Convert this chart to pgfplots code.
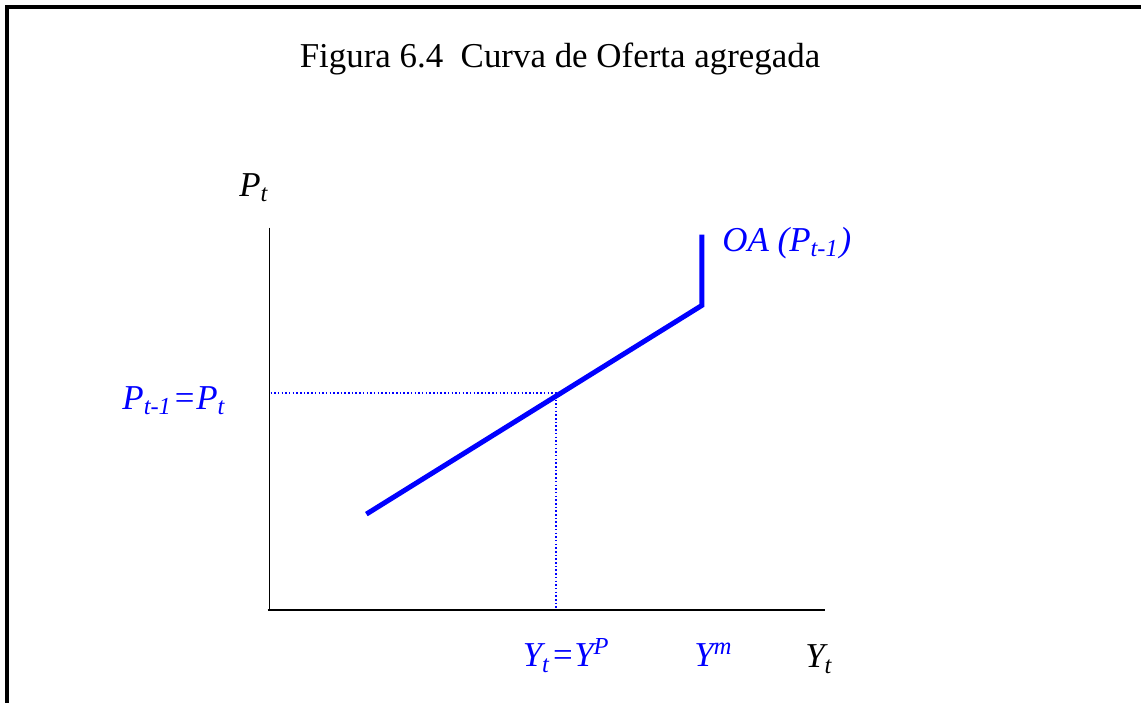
\documentclass[border=0pt]{standalone}
\usepackage{pgfplots}
\pgfplotsset{compat=1.18}
\usepackage{fontspec}
\setmainfont{Liberation Serif}
\definecolor{oablue}{RGB}{0,0,255}
\newcommand{\lbl}{\fontsize{9.95pt}{12pt}\selectfont}
\begin{document}
\begin{tikzpicture}
\begin{axis}[
  scale only axis,
  width=11.41cm, height=7.02cm,
  xmin=0, xmax=1141, ymin=0, ymax=702,
  y dir=reverse,
  axis lines=none,
  clip=false,
  ticks=none,
]
% page extent and frame
\path (axis cs:0,0) rectangle (axis cs:1141,702);
\addplot[black, line width=0.4mm, line cap=rect] coordinates {(7,702) (7,7) (1141,7)};
% axes
\addplot[black, line width=0.15mm] coordinates {(270,228) (270,611)};
\addplot[black, line width=0.2mm] coordinates {(268,611) (826,611)};
% guide lines to the equilibrium point
\addplot[oablue, line width=0.2mm, dash pattern=on 0.15mm off 0.22mm] coordinates {(271,394) (557,394) (557,610)};
% aggregate supply curve
\addplot[oablue, line width=0.5mm, line join=miter] coordinates {(367,515) (703,306) (703,235)};
% labels
\node[anchor=base, font=\lbl] at (axis cs:561,68) {Figura 6.4\ \ Curva de Oferta agregada};
\node[anchor=base west, inner sep=0pt, font=\lbl\itshape] at (axis cs:239,197) {P\textsubscript{t}};
\node[anchor=base west, inner sep=0pt, font=\lbl\itshape, text=oablue] at (axis cs:122,410) {P\textsubscript{t-1}=P\textsubscript{t}};
\node[anchor=base west, inner sep=0pt, font=\lbl\itshape, text=oablue] at (axis cs:723,252) {OA (P\textsubscript{t-1})};
\node[anchor=base west, inner sep=0pt, font=\lbl\itshape, text=oablue] at (axis cs:523,668) {Y\textsubscript{t}=Y\textsuperscript{P}};
\node[anchor=base west, inner sep=0pt, font=\lbl\itshape, text=oablue] at (axis cs:695,668) {Y\textsuperscript{m}};
\node[anchor=base west, inner sep=0pt, font=\lbl\itshape] at (axis cs:806,669) {Y\textsubscript{t}};
\end{axis}
\end{tikzpicture}
\end{document}
